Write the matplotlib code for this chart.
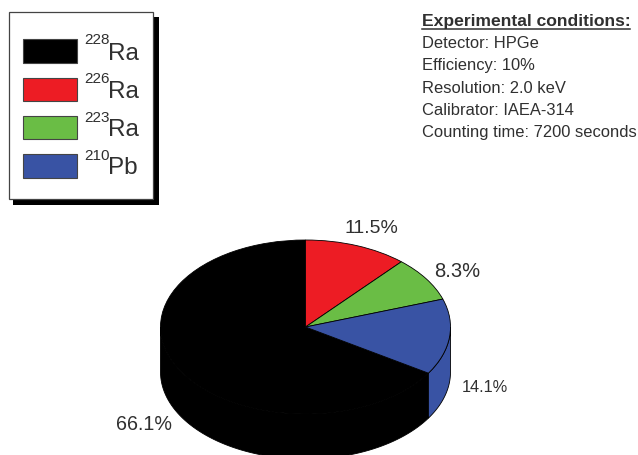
import numpy as np
import matplotlib
matplotlib.use("Agg")
import matplotlib.pyplot as plt
from matplotlib.patches import Rectangle

plt.rcParams["font.family"] = ["Liberation Sans", "DejaVu Sans"]

# Activity shares of the measured radionuclides
mass_numbers = ["228", "226", "223", "210"]
elements = ["Ra", "Ra", "Ra", "Pb"]
shares = [66.1, 11.5, 8.3, 14.1]
colors = ["#000000", "#ED1C24", "#6ABD45", "#3953A4"]

heading = "Experimental conditions:"
conditions = [
    "Detector: HPGe",
    "Efficiency: 10%",
    "Resolution: 2.0 keV",
    "Calibrator: IAEA-314",
    "Counting time: 7200 seconds",
]

W, H = 638, 455
CX, CY, RX, RY, DEPTH = 305.5, 327.0, 145.0, 87.0, 45.0
EDGE = "#000000"
INK = "#303030"

fig = plt.figure(figsize=(W / 100, H / 100), dpi=100, facecolor="white")

# Pie axes: one data unit equals the radius, squashed vertically for the tilt
ax = fig.add_axes([0, 0, 1, 1])
start = 90 + 3.6 * shares[0]
ax.pie(shares, colors=colors, startangle=start, counterclock=False, radius=1,
       wedgeprops={"edgecolor": EDGE, "linewidth": 0.6, "zorder": 3})
ax.set_aspect("auto")
ax.set_xlim(-CX / RX, (W - CX) / RX)
ax.set_ylim((CY - H) / RY, CY / RY)
ax.axis("off")

# Side wall: only the part of each slice facing the viewer (lower half of the rim)
depth = DEPTH / RY
angle = start
for value, color in zip(shares, colors):
    end = angle - 3.6 * value
    for window_lo, window_hi in [(180, 360), (-180, 0)]:
        lo, hi = max(end, window_lo), min(angle, window_hi)
        if lo < hi:
            t = np.radians(np.linspace(lo, hi, 80))
            xs = np.r_[np.cos(t), np.cos(t[::-1])]
            ys = np.r_[np.sin(t), np.sin(t[::-1]) - depth]
            ax.fill(xs, ys, facecolor=color, edgecolor=EDGE, linewidth=0.6, zorder=2)
    angle = end

# Overlay in pixel units for the legend box and annotations
ov = fig.add_axes([0, 0, 1, 1], facecolor="none")
ov.set_xlim(0, W)
ov.set_ylim(H, 0)
ov.axis("off")

ov.add_patch(Rectangle((13, 17), 146, 188, facecolor="black", edgecolor="none"))
ov.add_patch(Rectangle((8.5, 12), 144.5, 187, facecolor="white",
                       edgecolor="#444444", linewidth=0.9))

swatch_tops = [39, 78, 116, 154]
swatch_heights = [24, 23, 23, 24]
text_baselines = [60, 98, 136, 174]
sup_baselines = [44, 83, 122, 160]
for i, color in enumerate(colors):
    ov.add_patch(Rectangle((23, swatch_tops[i]), 54, swatch_heights[i],
                           facecolor=color, edgecolor="#444444", linewidth=0.8))
    ov.text(84, sup_baselines[i], mass_numbers[i], fontsize=11, color=INK,
            va="baseline", ha="left")
    ov.text(108.5, text_baselines[i], elements[i], fontsize=17.5, color=INK,
            va="baseline", ha="left")

# Measurement conditions block
ov.text(422, 26, heading, fontsize=12.6, fontweight="bold", color=INK,
        va="baseline", ha="left")
ov.plot([422, 630], [29, 29], color=INK, linewidth=1.1)
for baseline, line in zip([48, 70, 93, 115, 137], conditions):
    ov.text(422, baseline, line, fontsize=11.9, color=INK, va="baseline", ha="left")

# Percentage labels, in the order of the shares
label_x = [116, 345, 434, 462]
label_y = [430, 233, 277, 392]
label_size = [14.2, 14, 14.5, 11.8]
for x, y, size, value in zip(label_x, label_y, label_size, shares):
    ov.text(x, y, f"{value:.1f}%", fontsize=size, color=INK, va="baseline", ha="left")

fig.savefig("out.png", dpi=100)
